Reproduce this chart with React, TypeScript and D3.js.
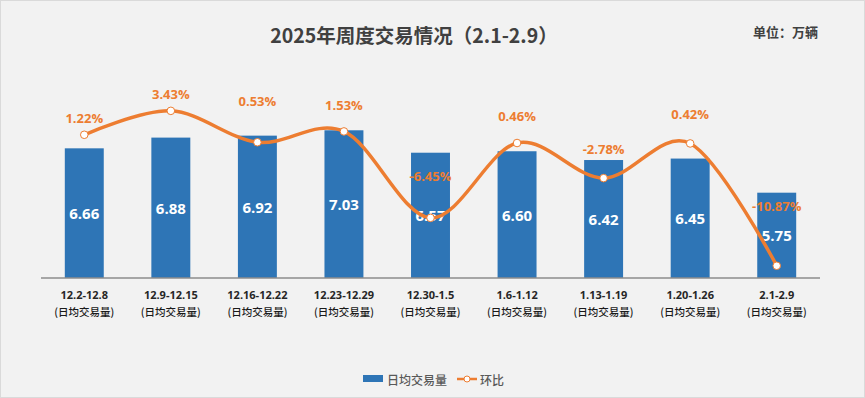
import React, { useEffect, useRef } from "react";
import * as d3 from "d3";

// weekly ranges and values
const weeks = ["12.2-12.8", "12.9-12.15", "12.16-12.22", "12.23-12.29", "12.30-1.5", "1.6-1.12", "1.13-1.19", "1.20-1.26", "2.1-2.9"];
const dailyVolume = [6.66, 6.88, 6.92, 7.03, 6.57, 6.6, 6.42, 6.45, 5.75];
const momChange = [1.22, 3.43, 0.53, 1.53, -6.45, 0.46, -2.78, 0.42, -10.87];
// how far each percent label sits above its point (hand placed in the original)
const pctLabelLift = [17, 17, 41, 26, 42, 27, 29, 29, 60];

const BLUE = "#2e75b6";
const ORANGE = "#ed7d31";
const FONT = "'Open Sans', 'Noto Sans CJK SC', sans-serif";

const App = () => {
  const svgRef = useRef<SVGSVGElement>(null);

  useEffect(() => {
    document.body.style.margin = "0";
    const width = 865, height = 398;
    const left = 41, right = 820, top = 83, bottom = 278;

    const svg = d3.select(svgRef.current)
      .attr("width", width)
      .attr("height", height)
      .style("display", "block")
      .style("font-family", FONT);
    svg.selectAll("*").remove();

    svg.append("rect")
      .attr("x", 0.5).attr("y", 0.5)
      .attr("width", width - 1).attr("height", height - 1)
      .attr("fill", "#f2f2f2")
      .attr("stroke", "#dadada");

    const x = d3.scaleBand()
      .domain(weeks)
      .range([left, right])
      .paddingInner(0.55)
      .paddingOuter(0.275);

    const yBar = d3.scaleLinear().domain([4, 8]).range([bottom, top]);
    const yPct = d3.scaleLinear().domain([-12, 6]).range([bottom, top]);

    const cx = (i) => x(weeks[i]) + x.bandwidth() / 2;

    // bars
    svg.append("g").selectAll("rect")
      .data(dailyVolume)
      .enter().append("rect")
      .attr("x", (d, i) => x(weeks[i]))
      .attr("y", d => yBar(d))
      .attr("width", x.bandwidth())
      .attr("height", d => bottom - yBar(d))
      .attr("fill", BLUE);

    // axis line
    svg.append("line")
      .attr("x1", left).attr("x2", right)
      .attr("y1", bottom).attr("y2", bottom)
      .attr("stroke", "#8c8c8c")
      .attr("stroke-width", 1.5);

    // category labels
    const cats = svg.append("g").selectAll("g")
      .data(weeks)
      .enter().append("g");
    cats.append("text")
      .attr("x", (d, i) => cx(i))
      .attr("y", 294)
      .attr("text-anchor", "middle")
      .attr("dominant-baseline", "central")
      .attr("font-size", "11px")
      .attr("font-weight", "bold")
      .attr("fill", "#262626")
      .text(d => d);
    cats.append("text")
      .attr("x", (d, i) => cx(i))
      .attr("y", 311.5)
      .attr("text-anchor", "middle")
      .attr("dominant-baseline", "central")
      .attr("font-size", "10.5px")
      .attr("font-weight", 500)
      .attr("fill", "#1a1a1a")
      .attr("font-family", "'Noto Sans CJK SC', sans-serif")
      .text("(日均交易量)");

    // bar value labels
    svg.append("g").selectAll("text")
      .data(dailyVolume)
      .enter().append("text")
      .attr("x", (d, i) => cx(i))
      .attr("y", d => (yBar(d) + bottom) / 2)
      .attr("text-anchor", "middle")
      .attr("dominant-baseline", "central")
      .attr("font-size", "15px")
      .attr("font-weight", "bold")
      .attr("fill", "#fff")
      .text(d => d.toFixed(2));

    // smoothed change line
    const line = d3.line<number>()
      .x((d, i) => cx(i))
      .y(d => yPct(d))
      .curve(d3.curveCardinal.tension(0));

    svg.append("path")
      .datum(momChange)
      .attr("d", line)
      .attr("fill", "none")
      .attr("stroke", ORANGE)
      .attr("stroke-width", 3.5)
      .attr("stroke-linecap", "round");

    svg.append("g").selectAll("circle")
      .data(momChange)
      .enter().append("circle")
      .attr("cx", (d, i) => cx(i))
      .attr("cy", d => yPct(d))
      .attr("r", 3.8)
      .attr("fill", "#fff")
      .attr("stroke", ORANGE)
      .attr("stroke-width", 1);

    svg.append("g").selectAll("text")
      .data(momChange)
      .enter().append("text")
      .attr("x", (d, i) => cx(i))
      .attr("y", (d, i) => yPct(d) - pctLabelLift[i])
      .attr("text-anchor", "middle")
      .attr("dominant-baseline", "central")
      .attr("font-size", "13px")
      .attr("font-weight", "bold")
      .attr("fill", ORANGE)
      .text(d => d.toFixed(2) + "%");

    // title and unit
    svg.append("text")
      .attr("x", 414)
      .attr("y", 34)
      .attr("text-anchor", "middle")
      .attr("dominant-baseline", "central")
      .attr("font-size", "19.5px")
      .attr("font-weight", "bold")
      .attr("fill", "#404040")
      .attr("font-family", "'Noto Sans CJK SC', sans-serif")
      .text("2025年周度交易情况（2.1-2.9）");

    svg.append("text")
      .attr("x", 818)
      .attr("y", 31)
      .attr("text-anchor", "end")
      .attr("dominant-baseline", "central")
      .attr("font-size", "13px")
      .attr("font-weight", "bold")
      .attr("fill", "#404040")
      .attr("font-family", "'Noto Sans CJK SC', sans-serif")
      .text("单位：万辆");

    // legend
    const legend = svg.append("g").attr("font-family", "'Noto Sans CJK SC', sans-serif");
    legend.append("rect")
      .attr("x", 363).attr("y", 375)
      .attr("width", 20).attr("height", 7)
      .attr("fill", BLUE);
    legend.append("text")
      .attr("x", 387).attr("y", 379)
      .attr("dominant-baseline", "central")
      .attr("font-size", "12px")
      .attr("font-weight", 500)
      .attr("fill", "#595959")
      .text("日均交易量");
    legend.append("line")
      .attr("x1", 457).attr("x2", 477)
      .attr("y1", 379).attr("y2", 379)
      .attr("stroke", ORANGE)
      .attr("stroke-width", 2.5);
    legend.append("circle")
      .attr("cx", 467).attr("cy", 379)
      .attr("r", 3)
      .attr("fill", "#fff")
      .attr("stroke", ORANGE)
      .attr("stroke-width", 1);
    legend.append("text")
      .attr("x", 480).attr("y", 379)
      .attr("dominant-baseline", "central")
      .attr("font-size", "12px")
      .attr("font-weight", 500)
      .attr("fill", "#595959")
      .text("环比");
  }, []);

  return <svg ref={svgRef}></svg>;
};

export default App;
